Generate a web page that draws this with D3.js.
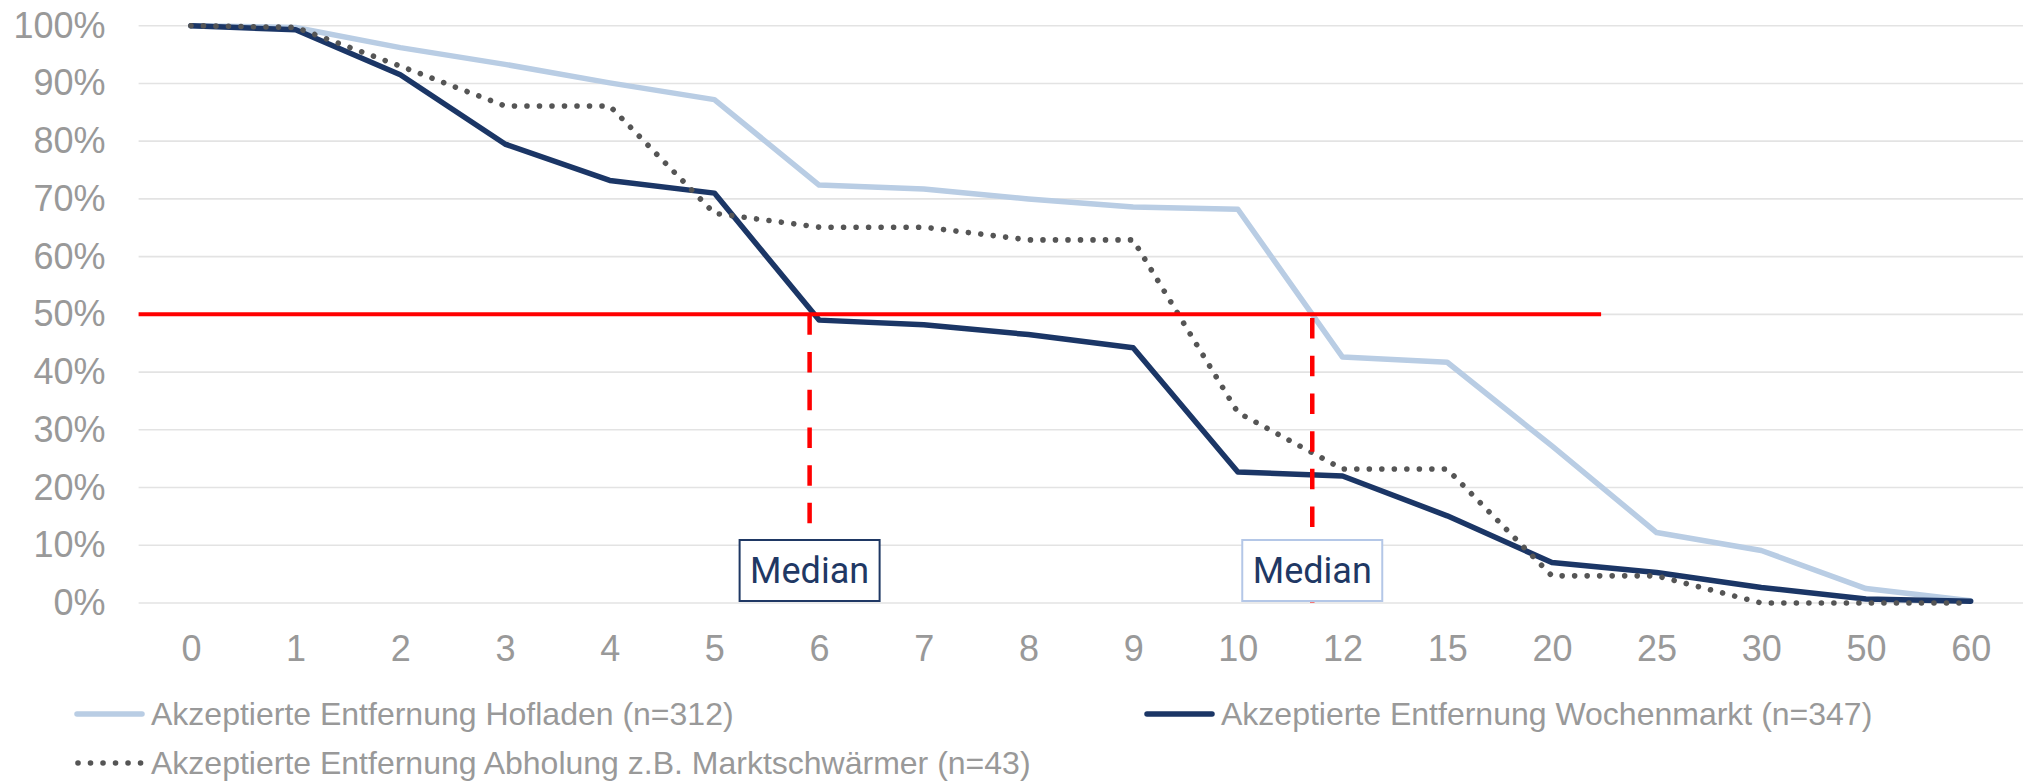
<!DOCTYPE html>
<html>
<head>
<meta charset="utf-8">
<script src="https://cdn.jsdelivr.net/npm/d3@7"></script>
<style>
  body { margin: 0; background: #fff; }
  svg { display: block; }
  .tick text { font-family: "Liberation Sans", Arial, sans-serif; font-size: 36px; fill: #999; }
</style>
</head>
<body>
<svg id="chart" width="2023" height="782"></svg>
<script>
// Entfernung in km (Kategorien) und Anteil der Befragten in %
const categories = ['0', '1', '2', '3', '4', '5', '6', '7', '8', '9', '10', '12', '15', '20', '25', '30', '50', '60'];
const hofladen    = [100, 99.7, 96.2, 93.3, 90.1, 87.2, 72.4, 71.7, 70.0, 68.6, 68.2, 42.6, 41.7, 27.2, 12.2, 9.1, 2.5, 0.4];
const wochenmarkt = [100, 99.3, 91.5, 79.5, 73.2, 71.0, 49.0, 48.2, 46.5, 44.2, 22.7, 22.0, 15.1, 7.0, 5.3, 2.7, 0.7, 0.3];
const abholung    = [100, 99.7, 93.0, 86.1, 86.1, 67.5, 65.1, 65.1, 62.9, 62.9, 33.0, 23.2, 23.2, 4.7, 4.7, 0, 0, 0];
const yTicks = [0, 10, 20, 30, 40, 50, 60, 70, 80, 90, 100];
const seriesNames = [
  'Akzeptierte Entfernung Hofladen (n=312)',
  'Akzeptierte Entfernung Wochenmarkt (n=347)',
  'Akzeptierte Entfernung Abholung z.B. Marktschwärmer (n=43)'
];
const medianLevel = 50;

const svg = d3.select('#chart');
const plotLeft = 138.6, plotRight = 2023, plotTop = 25.7, plotBottom = 603;

const x = d3.scalePoint().domain(categories).range([plotLeft, plotRight]).padding(0.5);
const y = d3.scaleLinear().domain([0, 100]).range([plotBottom, plotTop]);
const step = x.step();

// x position for a fractional category index
function xAt(idx) {
  const i = Math.floor(idx);
  return x(categories[i]) + (idx - i) * step;
}

// where a series first drops to the given level (interpolated)
function crossing(values, level) {
  for (let i = 1; i < values.length; i++) {
    if (values[i] <= level) {
      return i - 1 + (values[i - 1] - level) / (values[i - 1] - values[i]);
    }
  }
  return values.length - 1;
}

// gridlines
svg.append('g')
  .selectAll('line')
  .data(yTicks)
  .enter()
  .append('line')
  .attr('x1', plotLeft)
  .attr('x2', plotRight)
  .attr('y1', d => y(d))
  .attr('y2', d => y(d))
  .attr('stroke', '#e3e3e3')
  .attr('stroke-width', 1.6);

// axes
svg.append('g')
  .attr('transform', 'translate(' + plotLeft + ',0)')
  .call(d3.axisLeft(y).tickValues(yTicks).tickSize(0).tickPadding(33).tickFormat(d => d + '%'))
  .call(g => g.select('.domain').remove());

svg.append('g')
  .attr('transform', 'translate(0,' + plotBottom + ')')
  .call(d3.axisBottom(x).tickSize(0).tickPadding(32))
  .call(g => g.select('.domain').remove());

const line = d3.line()
  .x((d, i) => x(categories[i]))
  .y(d => y(d));

const series = [
  { values: hofladen, color: '#b9cde4', width: 5.5, dash: null },
  { values: wochenmarkt, color: '#1b3666', width: 5.5, dash: null },
  { values: abholung, color: '#555555', width: 5.6, dash: '0.01 12.5' }
];

svg.append('g')
  .selectAll('path')
  .data(series)
  .enter()
  .append('path')
  .attr('d', d => line(d.values))
  .attr('fill', 'none')
  .attr('stroke', d => d.color)
  .attr('stroke-width', d => d.width)
  .attr('stroke-linejoin', 'round')
  .attr('stroke-linecap', 'round')
  .attr('stroke-dasharray', d => d.dash);

// 50% line
svg.append('line')
  .attr('x1', plotLeft)
  .attr('x2', xAt(13.47))
  .attr('y1', y(medianLevel))
  .attr('y2', y(medianLevel))
  .attr('stroke', '#ff0000')
  .attr('stroke-width', 4);

// median markers
const medians = [
  { idx: crossing(wochenmarkt, medianLevel) - 0.045, border: '#1f3864', offset: 0 },
  { idx: crossing(hofladen, medianLevel), border: '#b4c7e7', offset: -3.7 }
];

const med = svg.append('g')
  .selectAll('g')
  .data(medians)
  .enter()
  .append('g');

med.append('line')
  .attr('x1', d => xAt(d.idx))
  .attr('x2', d => xAt(d.idx))
  .attr('y1', y(medianLevel))
  .attr('y2', y(0))
  .attr('stroke', '#ff0000')
  .attr('stroke-width', 4.5)
  .attr('stroke-dasharray', '20.5 17.2')
  .attr('stroke-dashoffset', d => d.offset);

med.append('rect')
  .attr('x', d => xAt(d.idx) - 70)
  .attr('y', 540)
  .attr('width', 140)
  .attr('height', 61)
  .attr('fill', '#fff')
  .attr('stroke', d => d.border)
  .attr('stroke-width', 2);

med.append('text')
  .attr('x', d => xAt(d.idx))
  .attr('y', 583)
  .attr('text-anchor', 'middle')
  .style('font-family', 'Roboto, "Open Sans", sans-serif')
  .style('font-size', '36px')
  .style('fill', '#1f3864')
  .text('Median');

// legend
const legendItems = [
  { name: seriesNames[0], s: series[0], x: 74, y: 714 },
  { name: seriesNames[1], s: series[1], x: 1144, y: 714 },
  { name: seriesNames[2], s: series[2], x: 74, y: 763 }
];

const leg = svg.append('g')
  .selectAll('g')
  .data(legendItems)
  .enter()
  .append('g')
  .attr('transform', d => 'translate(' + d.x + ',' + d.y + ')');

leg.append('line')
  .attr('x1', d => d.s.dash ? 4 : 3)
  .attr('x2', 68)
  .attr('stroke', d => d.s.color)
  .attr('stroke-width', d => d.s.width)
  .attr('stroke-linecap', 'round')
  .attr('stroke-dasharray', d => d.s.dash);

leg.append('text')
  .attr('x', 77)
  .attr('y', 10.5)
  .style('font-family', '"Liberation Sans", Arial, sans-serif')
  .style('font-size', '32px')
  .style('fill', '#999')
  .text(d => d.name);
</script>
</body>
</html>
